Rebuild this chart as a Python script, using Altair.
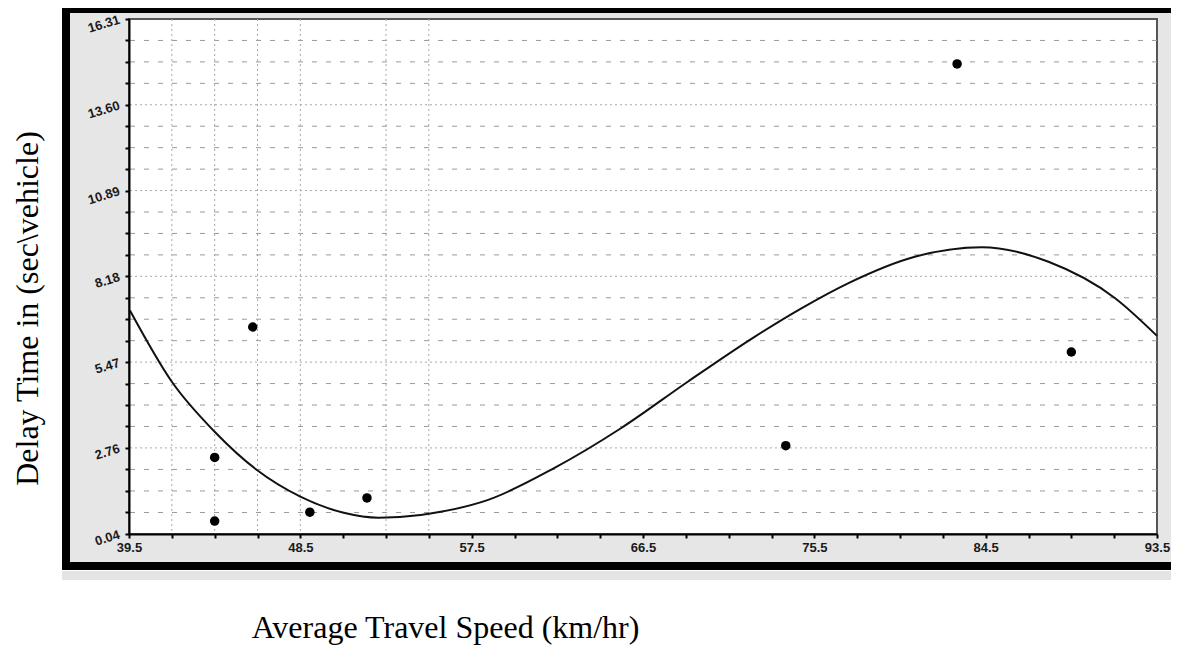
import altair as alt
import pandas as pd

# ---- data ----
speed = [44.0, 44.0, 46.0, 49.0, 52.0, 74.0, 83.0, 89.0]
delay = [2.46, 0.45, 6.58, 0.73, 1.18, 2.83, 14.89, 5.79]

curve_x = [39.55, 41.75, 44.0, 46.22, 48.5, 50.78, 52.62, 54.82, 55.87, 58.33, 61.83,
           65.34, 68.85, 72.36, 74.82, 77.27, 80.78, 84.29, 87.8, 91.3, 93.5]
curve_y = [7.10, 4.85, 3.27, 2.06, 1.22, 0.71, 0.555, 0.64, 0.74, 1.11, 2.12,
           3.38, 4.85, 6.27, 7.17, 7.96, 8.80, 9.10, 8.64, 7.49, 6.30]

x_major = [39.5, 48.5, 57.5, 66.5, 75.5, 84.5, 93.5]
y_major = [0.04, 2.76, 5.47, 8.18, 10.89, 13.60, 16.31]
v_grid = [41.75, 44.0, 46.25, 48.5, 53.0, 55.25]

x_title = "Average Travel Speed (km/hr)"
y_title = "Delay Time in (sec\\vehicle)"

# minor ticks: four subdivisions between labelled ticks
def subdivide(major, n=4):
    out = []
    for a, b in zip(major[:-1], major[1:]):
        for j in range(n):
            out.append(a + (b - a) * j / n)
    out.append(major[-1])
    return out

x_minor = subdivide(x_major)
y_minor = subdivide(y_major)

W, H = 1028, 515
xdom = [x_major[0], x_major[-1]]
ydom = [y_major[0], y_major[-1]]

pts = pd.DataFrame({"speed": speed, "delay": delay})
crv = pd.DataFrame({"speed": curve_x, "delay": curve_y})
frame_df = pd.DataFrame({"speed": [xdom[0]], "speed2": [xdom[1]], "delay": [ydom[0]], "delay2": [ydom[1]]})
one = pd.DataFrame({"a": [0]})
hmin = pd.DataFrame({"delay": [v for v in y_minor if v not in y_major]})
hmaj = pd.DataFrame({"delay": y_major[1:-1]})
vg = pd.DataFrame({"speed": v_grid})

xs = alt.Scale(domain=xdom, nice=False, zero=False)
ys = alt.Scale(domain=ydom, nice=False, zero=False)

x_major_js = "[" + ",".join(repr(v) for v in x_major) + "]"
y_major_js = "[" + ",".join(repr(v) for v in y_major) + "]"

x_axis = alt.Axis(
    values=x_minor,
    labelExpr=f"indexof({x_major_js}, datum.value) >= 0 ? format(datum.value, '.1f') : ''",
    grid=False, domainColor="black", domainWidth=2,
    tickColor="black", tickWidth=2, tickSize=4,
    labelFont="Liberation Sans", labelFontWeight="bold", labelFontSize=13,
    labelColor="#1a1a1a", labelPadding=3, labelFlush=False, labelOverlap=False,
    title=x_title, titleFont="Liberation Serif", titleFontSize=32,
    titleFontWeight="normal", titleColor="black",
    titleX=316, titleY=93, titleAlign="center", titleBaseline="middle",
    zindex=1,
)
y_axis = alt.Axis(
    values=y_minor,
    labelExpr=f"indexof({y_major_js}, datum.value) >= 0 ? format(datum.value, '.2f') : ''",
    grid=False, domainColor="black", domainWidth=2,
    tickColor="black", tickWidth=2, tickSize=4,
    labelFont="Liberation Sans", labelFontWeight="bold", labelFontSize=13,
    labelColor="#1a1a1a", labelPadding=6, labelFlush=False, labelOverlap=False,
    labelAngle=343, labelAlign="right", labelBaseline="middle",
    title=y_title, titleFont="Liberation Serif", titleFontSize=32,
    titleFontWeight="normal", titleColor="black", titleAngle=270,
    titleX=-102, titleY=289, titleAlign="center", titleBaseline="middle",
    zindex=1,
)

X = lambda: alt.X("speed:Q", scale=xs, axis=x_axis, title=x_title)
Y = lambda: alt.Y("delay:Q", scale=ys, axis=y_axis, title=y_title)

outer = alt.Chart(one).mark_rect(fill="#e6e6e6", stroke="black", strokeWidth=8).encode(
    x=alt.value(-63), x2=alt.value(W + 60), y=alt.value(-10), y2=alt.value(547)
)
strip = alt.Chart(one).mark_rect(fill="#e4e4e4").encode(
    x=alt.value(-67), x2=alt.value(W + 60), y=alt.value(552), y2=alt.value(561)
)
plotbg = alt.Chart(frame_df).mark_rect(fill="white", stroke="#555555", strokeWidth=2).encode(
    x=X(), x2=alt.X2("speed2"), y=Y(), y2=alt.Y2("delay2"),
)
grid_minor = alt.Chart(hmin).mark_rule(color="#9a9a9a", strokeWidth=1, strokeDash=[5, 9]).encode(y=Y())
grid_major = alt.Chart(hmaj).mark_rule(color="#a8a8a8", strokeWidth=1, strokeDash=[2, 3]).encode(y=Y())
grid_v = alt.Chart(vg).mark_rule(color="#a8a8a8", strokeWidth=1, strokeDash=[2, 3]).encode(x=X())

curve = alt.Chart(crv).mark_line(color="#111111", strokeWidth=2, interpolate="monotone").encode(
    x=X(), y=Y()
)
points = alt.Chart(pts).mark_circle(color="black", opacity=1, size=90).encode(x=X(), y=Y())

chart = alt.layer(outer, strip, plotbg, grid_minor, grid_major, grid_v, curve, points).properties(
    width=W, height=H,
    autosize=alt.AutoSizeParams(type="none"),
    padding={"left": 121, "top": 11, "right": 14, "bottom": 113},
    background="white",
).configure_view(stroke=None)

chart.save("out.html", embed_options={"renderer": "svg", "actions": False})
